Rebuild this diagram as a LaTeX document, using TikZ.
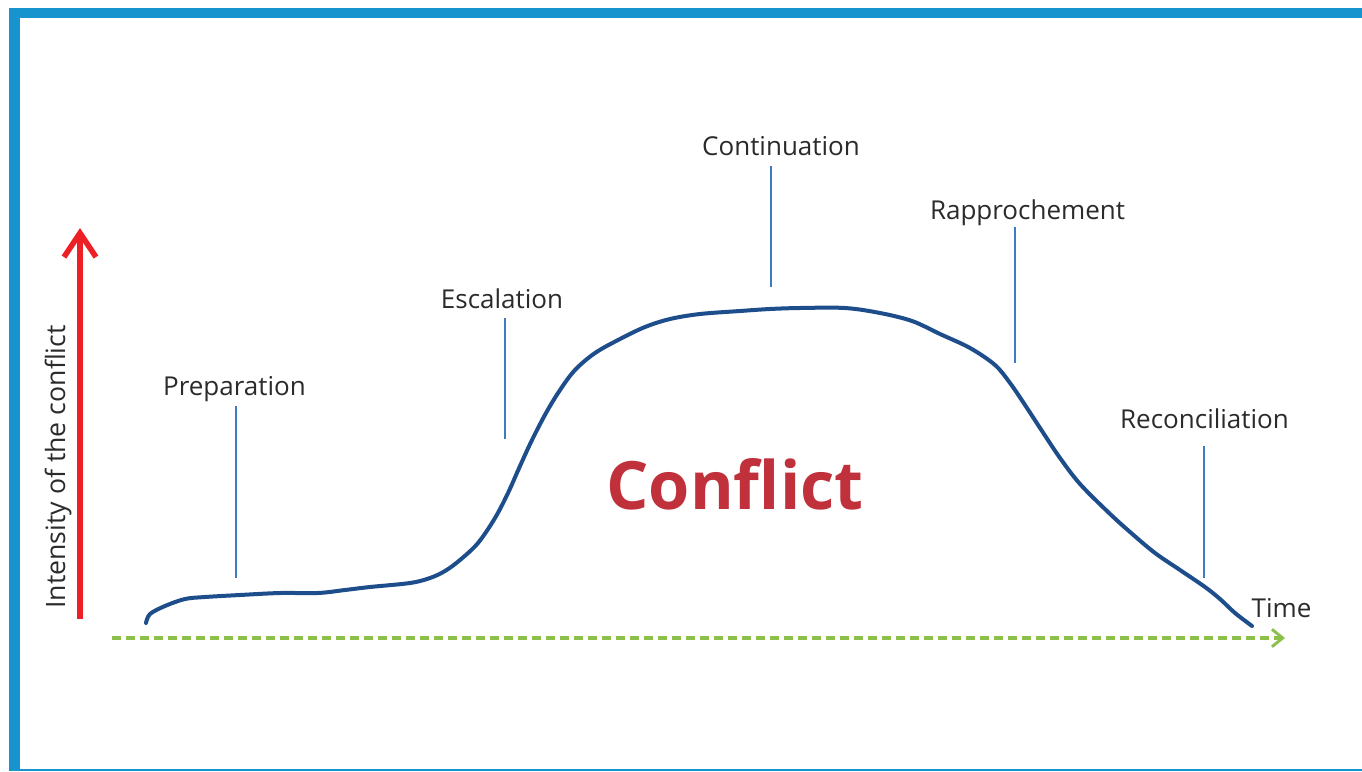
\documentclass[tikz,border=0pt]{standalone}
\usepackage{fontspec}
\setmainfont{Open Sans}
\usetikzlibrary{arrows.meta}
\definecolor{frameblue}{HTML}{1793CD}
\definecolor{arrowred}{HTML}{EE2025}
\definecolor{timegreen}{HTML}{8DC04A}
\definecolor{curveblue}{HTML}{1E4D8C}
\definecolor{tickblue}{HTML}{3C7CC4}
\definecolor{conflictred}{HTML}{C1313B}
\definecolor{labelgray}{HTML}{2B2B2B}
\tikzset{
  phase/.style={font=\fontsize{19.5}{23}\selectfont, text=labelgray, inner sep=0pt, anchor=base},
  tick/.style={draw=tickblue, line width=1.4pt},
  curve/.style={draw=curveblue, line width=3pt, line cap=round, line join=round},
}
\begin{document}
\begin{tikzpicture}[x=0.75pt,y=-0.75pt]
\useasboundingbox (0,0) rectangle (1362,771);
\fill[white] (0,0) rectangle (1362,771);
% frame
\fill[frameblue] (9,8) rectangle (1362,18);
\fill[frameblue] (9,8) rectangle (20,771);
\fill[frameblue] (9,769) rectangle (1362,771);

% axes
\coordinate (ybot) at (80,619);
\coordinate (ytop) at (80,228);
\draw[arrowred, line width=4.2pt, -{Straight Barb[length=18pt,width=24pt,line width=4.2pt]}] (ybot) -- (ytop);
\coordinate (xl) at (112,638);
\coordinate (xr) at (1285,638);
\draw[timegreen, line width=2.5pt, dash pattern=on 7pt off 3.5pt, -{Straight Barb[length=8pt,width=13pt,line width=2.2pt]}] (xl) -- (xr);

\node[font=\fontsize{20}{23}\selectfont, text=labelgray, rotate=90, inner sep=0pt] (ylab) at (58,467) {Intensity of the conflict};
\node[phase] (time) at (1281.5,617) {Time};

% curve
\draw[curve] plot[smooth, tension=0.55] coordinates {
(146,623) (150,614) (165,606) (185,599) (205,597) (240,595) (280,593) (318,593)
(345,590) (370,587) (410,583) (430,578) (445,571) (460,560) (478,543) (495,518)
(508,493) (520,466) (532,440) (546,413) (560,390) (575,370) (595,353) (620,339)
(645,327) (670,319) (700,314) (740,311) (770,309) (800,308) (845,308) (880,313)
(912,321) (940,334) (970,348) (995,365) (1010,383) (1025,405) (1042,431) (1060,458)
(1080,484) (1108,512) (1130,532) (1155,553) (1180,570) (1205,587) (1220,599)
(1235,613) (1252,626)};

% labels and ticks
\node[phase] (prep) at (234.5,395) {Preparation};
\coordinate (prepend) at (236,578);
\draw[tick] (prep.base -| prepend) ++(0,11) -- (prepend);

\node[phase] (esc) at (502,308) {Escalation};
\coordinate (escend) at (505,439);
\draw[tick] (esc.base -| escend) ++(0,10) -- (escend);

\node[phase] (cont) at (781,155) {Continuation};
\coordinate (contend) at (771,287);
\draw[tick] (cont.base -| contend) ++(0,11) -- (contend);

\node[phase] (rapp) at (1027.5,219) {Rapprochement};
\coordinate (rappend) at (1015,363);
\draw[tick] (rapp.base -| rappend) ++(0,8) -- (rappend);

\node[phase] (reco) at (1204.5,428) {Reconciliation};
\coordinate (recoend) at (1204,578);
\draw[tick] (reco.base -| recoend) ++(0,18) -- (recoend);

\node[font=\fontsize{50}{57}\selectfont\bfseries, text=conflictred, inner sep=0pt] (conflict) at (735,484) {Conflict};
\end{tikzpicture}
\end{document}
